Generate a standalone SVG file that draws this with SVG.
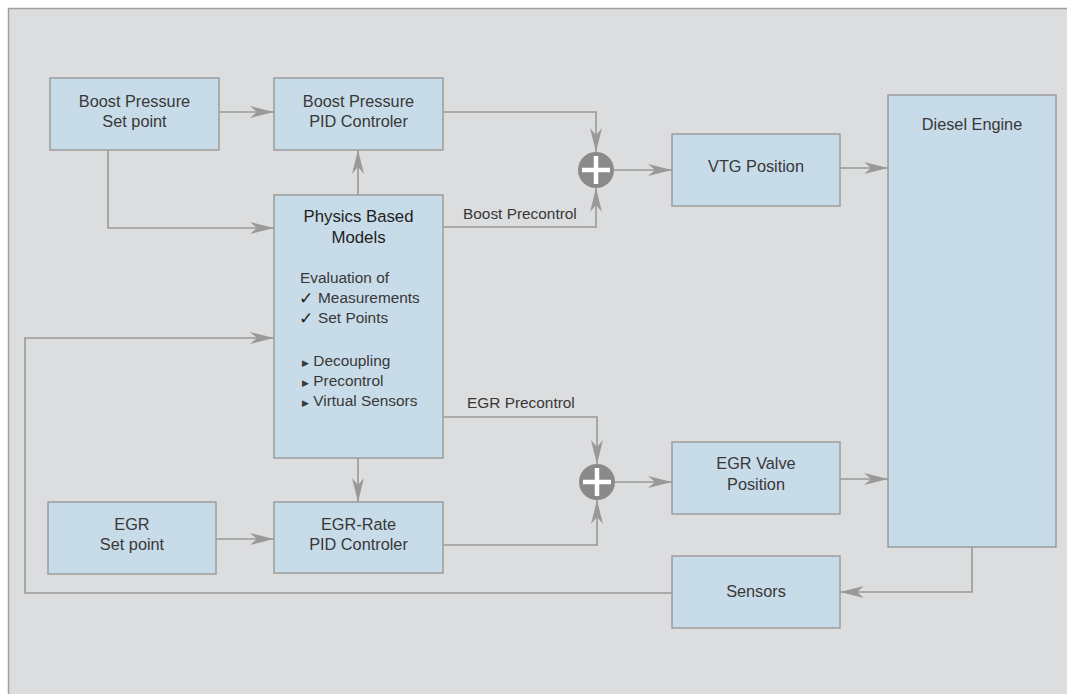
<svg xmlns="http://www.w3.org/2000/svg" width="1067" height="694" viewBox="0 0 1067 694">
<defs>
<style>
.box{fill:#c8dbe8;stroke:#9c9c9c;stroke-width:1.5}
.t{font-family:"Liberation Sans",Arial,sans-serif;font-size:16.3px;fill:#383838;text-anchor:middle}
.l{font-family:"Liberation Sans",Arial,sans-serif;font-size:15.4px;fill:#383838}
.h{font-family:"Liberation Sans",Arial,sans-serif;font-size:16.8px;fill:#1e1e1e;text-anchor:middle}
.ck{font-family:"DejaVu Sans",sans-serif;font-size:17px;fill:#1e1e1e}
.c{fill:none;stroke:#999;stroke-width:1.6;marker-end:url(#arr)}
.sum{fill:#8a8a8a}
.plus{stroke:#fff;stroke-width:4.5}
</style>
<marker id="arr" markerUnits="userSpaceOnUse" markerWidth="24" markerHeight="12" refX="24" refY="6" orient="auto" viewBox="0 0 24 12">
<path d="M0,0 L24,6 L0,12 L7,6 Z" fill="#999"/>
</marker>
</defs>
<rect x="0" y="0" width="1067" height="694" fill="#fff"/>
<rect x="8.5" y="8.5" width="1070" height="700" fill="#dcdddf" stroke="#a0a0a0" stroke-width="1.5"/>

<g id="connectors">
<path class="c" d="M219,112 H274"/>
<path class="c" d="M108,150 V228 H274"/>
<path class="c" d="M358,195 V150"/>
<path class="c" d="M443,112 H596 V152"/>
<path class="c" d="M443,227 H596 V188"/>
<path class="c" d="M614,170 H672"/>
<path class="c" d="M840,168 H888"/>
<path class="c" d="M443,417 H597 V464"/>
<path class="c" d="M443,545 H597 V500"/>
<path class="c" d="M615,482 H672"/>
<path class="c" d="M840,479 H888"/>
<path class="c" d="M358,458 V502"/>
<path class="c" d="M216,539 H274"/>
<path class="c" d="M972,547 V592 H840"/>
<path class="c" d="M672,593 H25 V338 H274"/>
<text class="l" x="463" y="219">Boost Precontrol</text>
<text class="l" x="467" y="408">EGR Precontrol</text>
</g>

<g id="boost-setpoint">
<rect class="box" x="50" y="78" width="169" height="72"/>
<text class="t" x="134.5" y="107">Boost Pressure</text>
<text class="t" x="134.5" y="127">Set point</text>
</g>
<g id="boost-pid">
<rect class="box" x="274" y="78" width="169" height="72"/>
<text class="t" x="358.5" y="107">Boost Pressure</text>
<text class="t" x="358.5" y="127">PID Controler</text>
</g>
<g id="physics">
<rect class="box" x="274" y="195" width="169" height="263"/>
<text class="h" x="358.5" y="222">Physics Based</text>
<text class="h" x="358.5" y="243">Models</text>
<text class="l" x="300" y="283">Evaluation of</text>
<text class="ck" x="299" y="304">✓</text>
<text class="l" x="318" y="303">Measurements</text>
<text class="ck" x="299" y="324">✓</text>
<text class="l" x="318" y="323">Set Points</text>
<text class="l" x="302" y="366"><tspan font-size="9">▶</tspan> Decoupling</text>
<text class="l" x="302" y="386"><tspan font-size="9">▶</tspan> Precontrol</text>
<text class="l" x="302" y="406"><tspan font-size="9">▶</tspan> Virtual Sensors</text>
</g>
<g id="sum1">
<circle class="sum" cx="596" cy="170" r="18"/>
<path class="plus" d="M582,170 H610 M596,156 V184"/>
</g>
<g id="sum2">
<circle class="sum" cx="597" cy="482" r="18"/>
<path class="plus" d="M583,482 H611 M597,468 V496"/>
</g>
<g id="vtg">
<rect class="box" x="672" y="134" width="168" height="72"/>
<text class="t" x="756" y="172">VTG Position</text>
</g>
<g id="diesel">
<rect class="box" x="888" y="95" width="168" height="452"/>
<text class="t" x="972" y="130">Diesel Engine</text>
</g>
<g id="egr-valve">
<rect class="box" x="672" y="442" width="168" height="72"/>
<text class="t" x="756" y="469">EGR Valve</text>
<text class="t" x="756" y="490">Position</text>
</g>
<g id="sensors">
<rect class="box" x="672" y="556" width="168" height="72"/>
<text class="t" x="756" y="597">Sensors</text>
</g>
<g id="egr-pid">
<rect class="box" x="274" y="502" width="169" height="71"/>
<text class="t" x="358.5" y="530">EGR-Rate</text>
<text class="t" x="358.5" y="550">PID Controler</text>
</g>
<g id="egr-setpoint">
<rect class="box" x="48" y="502" width="168" height="72"/>
<text class="t" x="132" y="530">EGR</text>
<text class="t" x="132" y="550">Set point</text>
</g>
</svg>
